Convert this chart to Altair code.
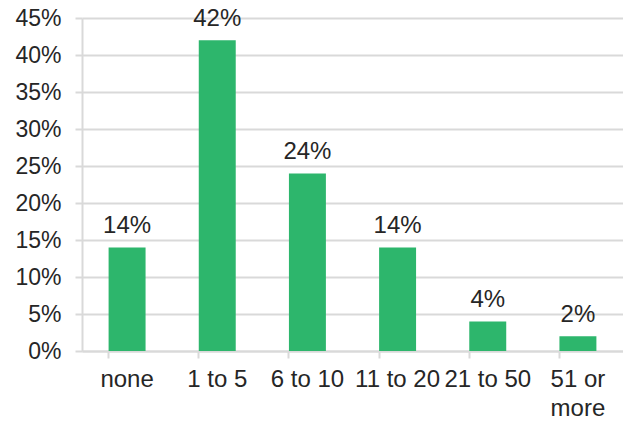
import altair as alt
import pandas as pd

# Share of respondents by count bucket
categories = ["none", "1 to 5", "6 to 10", "11 to 20", "21 to 50", "51 or more"]
shares = [14, 42, 24, 14, 4, 2]
y_ticks = [0, 5, 10, 15, 20, 25, 30, 35, 40, 45]

df = pd.DataFrame({"bucket": categories, "share": shares})
df["label"] = df["share"].astype(str) + "%"

FONT = "Liberation Sans"
TEXT = "#262626"
GRID = "#d9d9d9"

x_enc = alt.X(
    "bucket:N",
    sort=categories,
    scale=alt.Scale(paddingInner=0.59, paddingOuter=0.295),
    axis=alt.Axis(
        title=None,
        labelAngle=0,
        labelFont=FONT,
        labelFontSize=24,
        labelColor=TEXT,
        labelPadding=9,
        labelOverlap=False,
        labelBound=False,
        labelFlush=False,
        labelLineHeight=29,
        labelBaseline="top",
        labelExpr="datum.label == '51 or more' ? ['51 or', 'more'] : datum.label",
        bandPosition=0,
        ticks=True,
        tickSize=7,
        tickColor=GRID,
        tickWidth=2,
        domainColor=GRID,
        domainWidth=2,
        grid=False,
    ),
)

y_enc = alt.Y(
    "share:Q",
    scale=alt.Scale(domain=[0, 45], nice=False),
    axis=alt.Axis(
        title=None,
        values=y_ticks,
        tickCount=10,
        labelExpr="datum.value + '%'",
        labelFont=FONT,
        labelFontSize=23,
        labelColor=TEXT,
        labelPadding=14,
        labelOverlap=False,
        labelBound=False,
        labelFlush=False,
        tickSize=7,
        tickColor=GRID,
        tickWidth=2,
        domainColor=GRID,
        domainWidth=2,
        gridColor=GRID,
        gridWidth=2,
    ),
)

base = alt.Chart(df).encode(x=x_enc, y=y_enc)

bars = base.mark_bar(color="#2db66c")

labels = base.mark_text(
    font=FONT, fontSize=24, color=TEXT, baseline="alphabetic", dy=-14
).encode(text="label:N")

chart = (
    alt.layer(bars, labels)
    .properties(
        width=541,
        height=333,
        padding={"left": 82, "top": 18, "right": 0, "bottom": 74},
        autosize=alt.AutoSizeParams(type="none"),
        background="white",
    )
    .configure_view(stroke=None)
)

chart.save("out.html", embed_options={"renderer": "svg", "actions": False})
